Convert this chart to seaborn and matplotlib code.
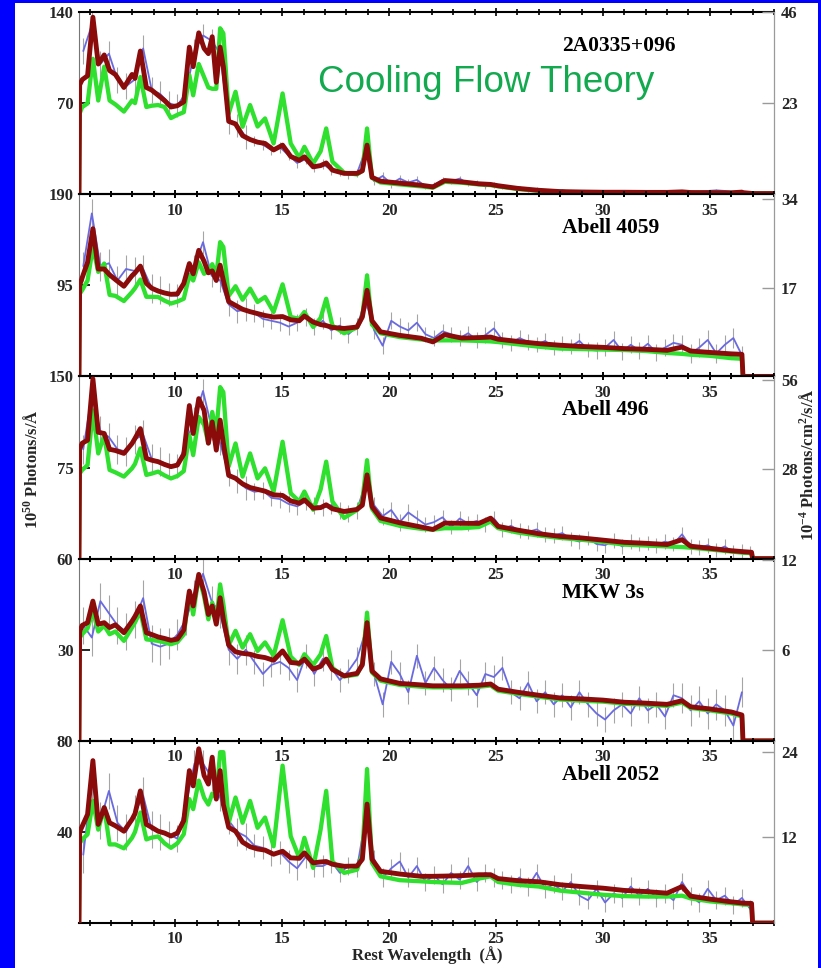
import numpy as np
import pandas as pd
import matplotlib
matplotlib.use("Agg")
import matplotlib.pyplot as plt
import seaborn as sns
from matplotlib.patches import Rectangle
from matplotlib.ticker import MultipleLocator

nan = np.nan

# ---------------- data ----------------
WAVE = [5.50, 5.53, 5.65, 5.90, 6.15, 6.40, 6.68, 6.93, 7.20, 7.60,
        7.98, 8.12, 8.37, 8.65, 8.90, 9.20, 9.50, 9.80, 10.10, 10.40,
        10.66, 10.84, 11.10, 11.35, 11.55, 11.73, 11.92, 12.10, 12.25, 12.50,
        12.82, 13.15, 13.50, 13.85, 14.20, 14.60, 15.02, 15.40, 15.80, 16.04,
        16.45, 16.80, 17.06, 17.35, 17.90, 18.50, 18.75, 18.97, 19.20, 19.60,
        20.50, 21.50, 22.05, 22.60, 23.40, 24.20, 24.75, 25.10, 26.00, 27.00,
        28.00, 29.00, 30.00, 31.00, 32.00, 33.00, 33.70, 34.10, 35.00, 36.00,
        36.50, 36.55, 36.95, 37.00, 38.00]

P1_RED = [0, 84, 88, 91, 136, 100, 107, 95, 92, 82,
          92, 89, 110, 82, 80, 76, 72, 67, 68, 71,
          113, 98, 124, 112, 108, 121, 86, 113, 98, 56,
          54, 45, 42, 40, 39, 34, 37.7, 29, 26, 28.7,
          21, 22, 24, 18.5, 16, 16, 18, 37.7, 13, 10,
          8.5, 6.9, 5.6, 10.5, 9.5, 8, 7.5, 6.5, 4.5, 3,
          2, 1.7, 1.5, 1.5, 1.4, 1.4, 1.8, 1.3, 1.2, 1.1,
          1.6, 1.2, 0.6, 0.5, 0.5]
P1_GRN = [0, 62, 67, 69.7, 104, 72, 98, 72, 69, 63.5,
          72, 70, 90, 67, 68, 68.5, 67, 58.5, 61, 63,
          91.5, 76, 100, 90, 82, 81, 81, 127.5, 123.6, 62,
          78.7, 51.8, 68.5, 52, 58.2, 39, 77.4, 39, 28, 36.4,
          23.6, 33, 50.5, 25, 16.5, 15.2, 18, 50.5, 12.5, 9,
          7.5, 6, 5, 9.5, 8.8, 7.5, 7, 6, 4, 2.6,
          1.7, 1.4, 1.2, 1.2, 1.1, 1.1, 1.4, 1.0, 1.0, 0.9,
          1.2, 0.9, 0.4, 0.4, 0.4]

P2_RED = [0, 95, 103, 119, 154, 112, 112, 106, 101, 94,
          105, 108, 115, 97, 92, 89, 87, 85.6, 86, 97,
          117.7, 107, 131.5, 120, 108, 110, 100, 116, 100, 78,
          74, 70, 67.5, 65.5, 63.5, 61.9, 62.4, 59, 58, 63,
          56.7, 54, 53, 51, 50, 51.5, 62, 89.8, 58, 46.5,
          42.8, 39.8, 36, 43.5, 40, 40.5, 41, 38.8, 36.5, 34.2,
          32.5, 31.2, 30.3, 29, 28.3, 27.2, 30.6, 26.5, 25, 23.5,
          23, 0, 0, 0, 0]
P2_GRN = [0, 86, 90, 100, 135, 109, 117.7, 85, 84, 78.6,
          88, 92, 101, 83, 83, 82.8, 79, 76, 78, 81,
          105.4, 100, 119, 107, 110, 117, 105, 140, 135, 84,
          94, 80, 91.5, 77.6, 82.8, 67.2, 96, 62, 60, 67.2,
          51.5, 61, 81, 53, 45, 51, 63, 105.4, 54, 45,
          41, 38.5, 37.5, 37.6, 37.6, 37, 36.5, 35.8, 33.5, 31,
          29, 28.5, 28, 27.5, 26.5, 24.5, 23.5, 22.6, 21.5, 19,
          18.4, 0, 0, 0, 0]

P3_RED = [0, 90, 95, 97.5, 148, 104, 103, 90, 89, 86.6,
          94.8, 99, 107, 82.5, 81, 79.8, 77.5, 75.7, 77, 86,
          126, 103, 131.7, 122, 95, 112.5, 89.3, 114, 95, 68.5,
          66.1, 61.5, 58.5, 57, 55.5, 52.5, 52, 47.5, 45.6, 48.4,
          41.5, 42, 44.3, 41, 38.8, 40.5, 44, 68.9, 42.9, 33.5,
          29.5, 26, 24, 29.2, 29, 29, 33.3, 26.5, 23.5, 20.5,
          18.3, 17, 15.2, 13.4, 12.6, 11.6, 15.6, 10.2, 8.5, 6.5,
          5.8, 5.7, 5.2, 0, 0]
P3_GRN = [0, 70, 73, 77, 122, 86.6, 101.6, 73, 71, 67.5,
          74.3, 78, 90.7, 68.9, 70, 71.6, 68.5, 66, 68, 72,
          101.6, 85.2, 116.6, 110, 95, 120.7, 104.3, 141.2, 137, 76,
          94.8, 67.5, 86.6, 66, 74.3, 55.2, 96.2, 53.8, 47, 55.2,
          40.2, 57, 79.8, 47, 33.5, 40, 48, 81, 41, 31,
          27, 24.5, 23.8, 25, 25, 26, 30.5, 25, 21.5, 19,
          17, 15.5, 13.8, 11.5, 10.8, 10, 9.5, 9, 7.5, 5.8,
          4.9, 4.8, 4.5, 0, 0]

P4_RED = [0, 36, 38, 38.9, 46, 38.4, 38.9, 37.3, 38.2, 35.6,
          39.4, 41, 44.4, 35.6, 35, 34.2, 33.7, 33.1, 33.5, 36.5,
          49.3, 44.4, 54.8, 49, 41.6, 44.4, 38.4, 47.1, 40, 31.5,
          29.3, 28.8, 28.5, 27.8, 27.4, 26.5, 29.6, 25.8, 25.5, 26.9,
          23.6, 24.5, 26.9, 23.5, 21.4, 22.2, 25, 38.9, 23, 20.4,
          18.9, 18.4, 18.1, 18.1, 18.1, 18.3, 18.7, 17, 16, 15,
          14.1, 13.8, 13.4, 12.7, 12.4, 12, 13.2, 11.2, 10.5, 9.5,
          8.5, 0, 0, 0, 0]
P4_GRN = [0, 34, 35.1, 37, 42.7, 36, 37.9, 35.1, 36, 32.9,
          37.3, 39, 42.7, 33.4, 33.2, 32.9, 32.4, 31.8, 32.5, 35,
          48.8, 41.6, 54.3, 47.5, 40, 45.5, 39.4, 51.5, 45, 31.5,
          36.2, 30.7, 35.1, 29.6, 32.4, 28, 39.7, 27.7, 25, 28.5,
          25, 28.5, 34.5, 24, 21.2, 21.8, 25.5, 42.2, 22.5, 19.8,
          18.4, 17.8, 17.6, 17.6, 17.6, 17.8, 18.2, 16.5, 15.5, 14.5,
          13.6, 13.2, 12.9, 12.2, 11.9, 11.5, 12.6, 10.8, 10, 9,
          8, 0, 0, 0, 0]

P5_RED = [0, 40, 42.5, 47.7, 71.3, 43.3, 50.7, 44, 42.7, 40.3,
          45.5, 48, 58, 43.3, 42, 40.3, 39.5, 38.2, 39.5, 45,
          66.9, 60.2, 76.5, 64.7, 61, 72.8, 54.4, 66.9, 52, 42,
          40.3, 35.5, 33.5, 32.5, 32, 30.2, 31.5, 28.6, 28.4, 30.8,
          26.4, 26.8, 27, 25.8, 24.9, 25, 28, 52.2, 28, 22.7,
          21.5, 20.5, 20.5, 20.6, 20.8, 21.2, 21.2, 19.5, 18.6, 18.1,
          16.8, 16, 15.3, 14.3, 13.8, 13.1, 16, 11.8, 10.5, 9.3,
          8.8, 8.7, 8.6, 0, 0]
P5_GRN = [0, 35, 36.7, 38.9, 53.6, 41, 50.7, 34.5, 34.5, 32.8,
          37.4, 40, 48.5, 36.7, 37.5, 38, 35, 33, 35, 39,
          54.4, 50, 62.5, 55, 52, 56.8, 55, 75, 75, 44,
          55.1, 44, 53.6, 41.8, 46.3, 33.7, 69.1, 38.1, 28.6, 37.4,
          24.2, 41.1, 58, 27, 22, 23.4, 30, 67.6, 26.4, 20.5,
          18.8, 18.3, 18, 17.8, 17.6, 19.5, 20.5, 18, 16.8, 16,
          14.2, 13.3, 12.4, 11.8, 11.6, 11.6, 12, 10.8, 9.5, 8.7,
          8.2, 8.1, 8.0, 0, 0]

# observed spectra (binned, 0.4 A bins starting at 5.7 A)
BIN_WAVE = np.round(np.arange(5.7, 36.95, 0.4), 2)

P1_OBS = [110, 130, 100, 108, 88, 83, 88, 112, 80, 77,
          70, 68, 78, 110, 122, 118, 108, 55, 53, 44,
          41, 38, 34, 36, 30, 24, 27, 21, 23, 19,
          17, 15, 16, 34, 10, 14, 8, 12, 9, 11,
          6, 7, 11, 10, 12, 8, 9, 6, 7, 6,
          5, 5, 3, 4, 3, 2.5, 3, 2, 1.5, 2,
          1.5, 1.5, 2, 1.2, 2, 1.5, 1.5, 2, 1.2, 2,
          2.5, 1.5, 2, 2.5, 3, 2.5, 1.5, 1, nan]
P2_OBS = [115, 170, 115, 118, 100, 112, 110, 112, 92, 90,
          85, 84, 100, 115, 140, 105, 100, 75, 68, 70,
          66, 60, 58, 56, 52, 56, 62, 52, 58, 48,
          53, 44, 52, 80, 48, 32, 58, 52, 48, 56,
          44, 40, 47, 44, 40, 45, 38, 43, 50, 38,
          35, 40, 36, 33, 37, 30, 34, 31, 37, 28,
          27, 30, 38, 26, 33, 27, 34, 25, 30, 35,
          33, 24, 30, 38, 24, 33, 40, 22, nan]
P3_OBS = [90, 135, 105, 100, 90, 88, 98, 102, 82, 80,
          77, 76, 95, 115, 138, 108, 95, 70, 64, 58,
          55, 56, 50, 49, 45, 43, 47, 44, 42, 44,
          40, 37, 40, 62, 44, 35, 40, 30, 38, 33,
          28, 30, 34, 26, 33, 29, 31, 28, 33, 24,
          27, 23, 22, 24, 20, 19, 21, 16, 14, 17,
          12, 11, 15, 10, 14, 12, 13, 11, 14, 12,
          20, 10, 9, 11, 7, 10, 5, 6, 4]
P4_OBS = [38, 34, 46, 42, 38, 36, 40, 47, 32, 31,
          32, 35, 40, 48, 55, 46, 42, 30, 27, 30,
          26, 22, 25, 26, 24, 20, 28, 22, 27, 24,
          20, 23, 27, 36, 22, 12, 26, 22, 16, 28,
          19, 24, 20, 17, 23, 19, 15, 22, 21, 24,
          16, 14, 19, 13, 16, 12, 15, 11, 16, 12,
          9, 7, 10, 12, 9, 14, 10, 12, 8, 15,
          14, 10, 13, 9, 12, 10, 5, 16, nan]
P5_OBS = [30, 62, 45, 58, 44, 40, 48, 56, 41, 40,
          39, 37, 52, 70, 70, 64, 55, 45, 40, 38,
          34, 33, 30, 31, 27, 24, 29, 25, 25, 27,
          22, 25, 24, 46, 28, 20, 24, 27, 20, 25,
          18, 21, 17, 22, 19, 25, 18, 22, 20, 19,
          17, 20, 16, 22, 15, 17, 14, 18, 12, 10,
          15, 9, 13, 11, 16, 12, 15, 11, 13, 10,
          18, 12, 9, 15, 10, 12, 8, 11, 6]

# 1-sigma errors per 4 A wavelength segment (5.5-9.5, 9.5-13.5, ...)
P1_ERR = [10, 9, 4, 3, 2, 1.2, 0.8, 0.8]
P2_ERR = [15, 12, 9, 9, 8, 8, 9, 10]
P3_ERR = [12, 10, 7, 7, 6, 6, 6, 6]
P4_ERR = [6, 5, 4, 4, 4, 4, 4, 5]
P5_ERR = [8, 6, 5, 4, 4, 4, 4, 4]

NAMES = ["2A0335+096", "Abell 4059", "Abell 496", "MKW 3s", "Abell 2052"]
LEFT_TICKS = [[70, 140], [95, 190], [75, 150], [30, 60], [40, 80]]
RIGHT_TICKS = [[23, 46], [17, 34], [28, 56], [6, 12], [12, 24]]
RIGHT_MAX = [46, 35, 57, 12.1, 25.5]

REDS = [P1_RED, P2_RED, P3_RED, P4_RED, P5_RED]
GRNS = [P1_GRN, P2_GRN, P3_GRN, P4_GRN, P5_GRN]
OBSS = [P1_OBS, P2_OBS, P3_OBS, P4_OBS, P5_OBS]
ERRS = [P1_ERR, P2_ERR, P3_ERR, P4_ERR, P5_ERR]

# ---------------- style ----------------
sns.set_theme(style="white")
plt.rcParams["font.family"] = ["Liberation Serif", "DejaVu Serif"]
plt.rcParams["font.weight"] = "bold"
plt.rcParams["mathtext.fontset"] = "custom"
plt.rcParams["mathtext.rm"] = "Liberation Serif:bold"
plt.rcParams["mathtext.bf"] = "Liberation Serif:bold"
plt.rcParams["mathtext.it"] = "Liberation Serif:bold:italic"
plt.rcParams["mathtext.default"] = "rm"

W, H = 821, 968
fig = plt.figure(figsize=(W / 100, H / 100), dpi=100)
fig.patch.set_facecolor("white")

gs = fig.add_gridspec(5, 1, left=79 / W, right=774 / W,
                      top=1 - 12 / H, bottom=1 - 923 / H, hspace=0)

RED_C = "#8b0a0a"
GRN_C = "#2fe02f"
OBS_C = "#6a6ae0"
ERR_C = "#8f8f8f"

axes = []
for i in range(5):
    ax = fig.add_subplot(gs[i], sharex=axes[0] if axes else None)
    ax.set_facecolor("none")
    axes.append(ax)

    bw = np.array(BIN_WAVE)
    obs = np.array(OBSS[i], dtype=float)
    seg = np.minimum(((bw - 5.5) // 4).astype(int), 7)
    err = np.array(ERRS[i])[seg]
    ok = ~np.isnan(obs)
    ax.vlines(bw[ok], obs[ok] - err[ok], obs[ok] + err[ok],
              color=ERR_C, lw=0.8, alpha=0.8, zorder=1)
    df_obs = pd.DataFrame({"w": bw[ok], "f": obs[ok]})
    sns.lineplot(data=df_obs, x="w", y="f", ax=ax, color=OBS_C, lw=1.3,
                 estimator=None, legend=False, zorder=2)

    df_mod = pd.DataFrame({"w": WAVE, "g": GRNS[i], "r": REDS[i]})
    sns.lineplot(data=df_mod, x="w", y="g", ax=ax, color=GRN_C, lw=3.1,
                 estimator=None, legend=False, zorder=3)
    sns.lineplot(data=df_mod, x="w", y="r", ax=ax, color=RED_C, lw=3.5,
                 estimator=None, legend=False, zorder=4)

    top = LEFT_TICKS[i][1]
    ax.set_xlim(5.5, 38)
    ax.set_ylim(0, top)
    ax.set_xlabel("")
    ax.set_ylabel("")

    ax.xaxis.set_major_locator(MultipleLocator(5))
    ax.xaxis.set_minor_locator(MultipleLocator(1))
    ax.tick_params(axis="x", which="both", top=True, bottom=True,
                   direction="inout", color="black", width=1.2,
                   labelbottom=True, labeltop=False, labelsize=12, pad=3)
    ax.tick_params(axis="x", which="major", length=6)
    ax.tick_params(axis="x", which="minor", length=4)

    ax.set_yticks(LEFT_TICKS[i])
    ax.set_yticklabels([str(v) for v in LEFT_TICKS[i]])
    ax.tick_params(axis="y", which="both", left=True, right=False,
                   direction="in", length=8, width=1.2, color="black",
                   labelsize=12, pad=4)

    for s in ["top", "bottom"]:
        ax.spines[s].set_color("black")
        ax.spines[s].set_linewidth(1.5)
        ax.spines[s].set_visible(True)
    ax.spines["left"].set_color("#777777")
    ax.spines["left"].set_linewidth(0.8)
    ax.spines["right"].set_visible(False)

    ax2 = ax.twinx()
    ax2.set_ylim(0, RIGHT_MAX[i])
    ax2.set_yticks(RIGHT_TICKS[i])
    ax2.set_yticklabels([str(v) for v in RIGHT_TICKS[i]])
    ax2.tick_params(axis="y", right=True, left=False, direction="in",
                    length=9, width=1.0, color="#9a9a9a", labelsize=12, pad=5)
    ax2.grid(False)
    for s in ["top", "bottom", "left"]:
        ax2.spines[s].set_visible(False)
    ax2.spines["right"].set_visible(True)
    ax2.spines["right"].set_color("#9a9a9a")
    ax2.spines["right"].set_linewidth(0.9)

    ax.text(0.695, 1 - 39 / 182, NAMES[i], transform=ax.transAxes, ha="left",
            va="baseline", fontsize=15.5, fontweight="bold", color="black",
            zorder=6)

# axis labels
fig.text(32 / W, 1 - 469 / H, r"10$^{50}$ Photons/s/Å", rotation=90,
         ha="center", va="center", fontsize=12, fontweight="bold")
fig.text(808 / W, 1 - 465 / H, r"10$^{-4}$ Photons/cm$^{2}$/s/Å", rotation=90,
         ha="center", va="center", fontsize=12, fontweight="bold")
fig.text(427 / W, 1 - 955 / H, "Rest Wavelength  (Å)", ha="center",
         va="center", fontsize=12, fontweight="bold")

# title
fig.text(318 / W, 1 - 82 / H, "Cooling Flow Theory", ha="left", va="center",
         fontsize=26.5, fontweight="normal", family="Liberation Sans",
         color="#12a94f")

# blue frame
for (x0, y0, w, h) in [(0, 0, 15, H), (0, 0, W, 3), (818, 0, 3, H)]:
    fig.add_artist(Rectangle((x0 / W, 1 - (y0 + h) / H), w / W, h / H,
                             transform=fig.transFigure, color="#0000ff",
                             zorder=10, lw=0))

fig.savefig("out.png", dpi=100, facecolor="white")
